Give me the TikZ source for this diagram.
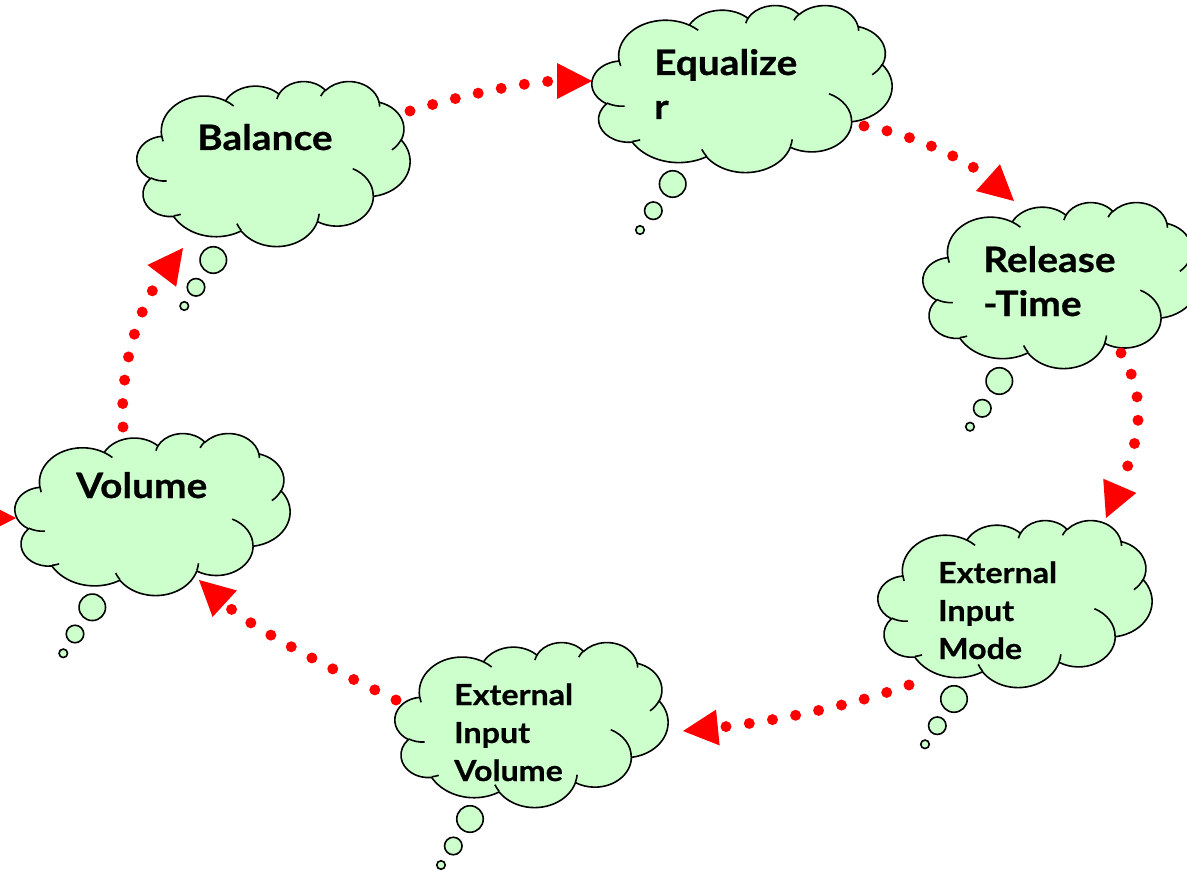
\documentclass[tikz,border=0pt]{standalone}
\usepackage{fontspec}
\setmainfont{Lato}[BoldFeatures={FakeStretch=1.11,FakeBold=0.6}]
\usetikzlibrary{arrows.meta}
\definecolor{cloudgreen}{HTML}{CCFFCC}
\definecolor{arrowred}{HTML}{FF0000}

% convert a DrawingML arc (visual angles) into parametric start / delta
\newcommand\visarc[5]{%
  \pgfmathsetmacro\vaA{atan2((#2)*sin(#4),(#3)*cos(#4))}%
  \pgfmathsetmacro\vaB{atan2((#2)*sin((#4)+(#5)),(#3)*cos((#4)+(#5)))}%
  \pgfmathsetmacro\vaD{\vaB-\vaA}%
  \pgfmathsetmacro\vaD{\vaD<0 ? \vaD+360 : \vaD}%
  \expandafter\xdef\csname #1s\endcsname{\vaA}%
  \expandafter\xdef\csname #1d\endcsname{\vaD}}
\visarc{cA}{67.53}{91.90}{-190.4875}{123.7805}
\visarc{cB}{53.33}{72.67}{-144.1024}{89.9452}
\visarc{cC}{43.65}{59.45}{-145.8079}{99.7230}
\visarc{cD}{48.57}{65.95}{-130.9861}{117.2417}
\visarc{cE}{53.33}{72.73}{-78.7089}{109.0269}
\visarc{cF}{67.75}{92.20}{-46.2673}{130.2690}
\visarc{cG}{57.85}{78.67}{0.6250}{114.0333}
\visarc{cH}{67.52}{92.15}{22.4516}{115.1726}
\visarc{cI}{77.20}{105.43}{66.2426}{75.7110}
\visarc{cJ}{43.60}{59.18}{-274.9421}{146.7356}
\visarc{cK}{43.45}{59.45}{-246.8285}{152.5189}
\visarc{hA}{43.45}{59.45}{86.7420}{26.4295}
\visarc{hB}{43.60}{59.18}{73.6105}{11.4475}
\visarc{hC}{67.52}{92.15}{137.6242}{14.0811}
\visarc{hD}{67.52}{92.15}{6.4533}{15.9984}
\visarc{hE}{57.85}{78.67}{-70.2924}{70.9174}
\visarc{hF}{53.33}{72.73}{30.3180}{27.7515}
\visarc{hG}{48.57}{65.95}{-13.7443}{14.8658}
\visarc{hH}{48.57}{65.95}{-149.1815}{18.1876}
\visarc{hI}{43.65}{59.45}{-163.4943}{17.6951}
\visarc{hJ}{67.53}{91.90}{-66.7070}{12.3194}
\visarc{hK}{67.53}{91.90}{157.6544}{11.8582}

\tikzset{
  cloudbox/.style={inner sep=0pt, outer sep=0pt, draw=none, rectangle},
  cloudline/.style={draw=black, line width=1.6pt, line join=round},
  bubble/.style={circle, draw=black, fill=cloudgreen, line width=1.6pt, inner sep=0pt},
  lbl/.style={anchor=base west, inner sep=0pt, text width=300pt, align=left,
    font=\fontsize{35}{44}\selectfont\bfseries},
  lblsmall/.style={lbl, font=\fontsize{29}{38}\selectfont\bfseries},
  flow/.style={draw=arrowred, line width=11pt, dash pattern=on 0pt off 23.5pt, line cap=round,
    -{Triangle[length=35pt,width=36pt,line width=0pt,fill=arrowred,color=arrowred]}}
}

\newcommand\drawcloud[5]{%
  \node[cloudbox, minimum width=#4pt, minimum height=#5pt, anchor=north west] (#1) at (#2,#3) {};
  \begin{scope}[shift={(#2,#3)}, xscale=#4/432, yscale=#5/432]
    \draw[cloudline, fill=cloudgreen] (39.00,143.70)
      arc[start angle=\cAs, delta angle=\cAd, x radius=67.53, y radius=91.90]
      arc[start angle=\cBs, delta angle=\cBd, x radius=53.33, y radius=72.67]
      arc[start angle=\cCs, delta angle=\cCd, x radius=43.65, y radius=59.45]
      arc[start angle=\cDs, delta angle=\cDd, x radius=48.57, y radius=65.95]
      arc[start angle=\cEs, delta angle=\cEd, x radius=53.33, y radius=72.73]
      arc[start angle=\cFs, delta angle=\cFd, x radius=67.75, y radius=92.20]
      arc[start angle=\cGs, delta angle=\cGd, x radius=57.85, y radius=78.67]
      arc[start angle=\cHs, delta angle=\cHd, x radius=67.52, y radius=92.15]
      arc[start angle=\cIs, delta angle=\cId, x radius=77.20, y radius=105.43]
      arc[start angle=\cJs, delta angle=\cJd, x radius=43.60, y radius=59.18]
      arc[start angle=\cKs, delta angle=\cKd, x radius=43.45, y radius=59.45]
      -- cycle;
    \draw[cloudline]
      (46.93,261.77) arc[start angle=\hAs, delta angle=\hAd, x radius=43.45, y radius=59.45]
      (69.28,348.99) arc[start angle=\hBs, delta angle=\hBd, x radius=43.60, y radius=59.18]
      (164.78,390.90) arc[start angle=\hCs, delta angle=\hCd, x radius=67.52, y radius=92.15]
      (288.27,347.51) arc[start angle=\hDs, delta angle=\hDd, x radius=67.52, y radius=92.15]
      (341.29,229.54) arc[start angle=\hEs, delta angle=\hEd, x radius=57.85, y radius=78.67]
      (417.98,153.54) arc[start angle=\hFs, delta angle=\hFd, x radius=53.33, y radius=72.73]
      (383.24,54.26) arc[start angle=\hGs, delta angle=\hGd, x radius=48.57, y radius=65.95]
      (290.78,39.52) arc[start angle=\hHs, delta angle=\hHd, x radius=48.57, y radius=65.95]
      (221.41,47.20) arc[start angle=\hIs, delta angle=\hId, x radius=43.65, y radius=59.45]
      (140.00,51.92) arc[start angle=\hJs, delta angle=\hJd, x radius=67.53, y radius=91.90]
      (41.27,157.89) arc[start angle=\hKs, delta angle=\hKd, x radius=67.53, y radius=91.90];
  \end{scope}}

\begin{document}
\begin{tikzpicture}[x=1pt, y=-1pt]
\useasboundingbox (0,0) rectangle (1187,872);
\clip (0,0) rectangle (1187,872);

% clouds
\drawcloud{bal}{137}{81}{273}{165}
\drawcloud{eq}{592}{5}{300}{167}
\drawcloud{rel}{923}{202}{275}{166}
\drawcloud{vol}{15}{433}{275}{162}
\drawcloud{eiv}{395}{642}{273}{165}
\drawcloud{eim}{878}{520}{274}{167}

% thought bubbles
\node[bubble, minimum size=26.5pt] (balb1) at (213.3,260) {};
\node[bubble, minimum size=17.5pt] (balb2) at (196,287.3) {};
\node[bubble, minimum size=8.5pt] (balb3) at (184.3,306) {};
\node[bubble, minimum size=26.5pt] (eqb1) at (672.7,184) {};
\node[bubble, minimum size=17.5pt] (eqb2) at (653.3,210.7) {};
\node[bubble, minimum size=8.5pt] (eqb3) at (640,230) {};
\node[bubble, minimum size=26.5pt] (relb1) at (999.3,381) {};
\node[bubble, minimum size=17.5pt] (relb2) at (982.3,408.3) {};
\node[bubble, minimum size=8.5pt] (relb3) at (970,426.7) {};
\node[bubble, minimum size=26.5pt] (volb1) at (92.3,607.3) {};
\node[bubble, minimum size=17.5pt] (volb2) at (75,634) {};
\node[bubble, minimum size=8.5pt] (volb3) at (63.3,653.3) {};
\node[bubble, minimum size=26.5pt] (eivb1) at (470,819) {};
\node[bubble, minimum size=17.5pt] (eivb2) at (453.3,846) {};
\node[bubble, minimum size=8.5pt] (eivb3) at (441,865) {};
\node[bubble, minimum size=26.5pt] (eimb1) at (954,699) {};
\node[bubble, minimum size=17.5pt] (eimb2) at (937.3,725.7) {};
\node[bubble, minimum size=8.5pt] (eimb3) at (925,744.3) {};

% texts
\node[lbl] (balT) at (197,150) {Balance};
\node[lbl] (eqT) at (654,75) {Equalize\\r};
\node[lbl] (relT) at (983,272) {Release\\-Time};
\node[lbl] (volT) at (76,498) {Volume};
\node[lblsmall] (eivT) at (454,705) {External\\Input\\Volume};
\node[lblsmall] (eimT) at (938,583) {External\\Input\\Mode};

% connectors
\coordinate (offL) at (-80,518);
\draw[flow] ([shift={(273,30)}]bal.north west) .. controls +(60,-18) and +(-60,0) .. ([shift={(0,76)}]eq.north west);
\draw[flow] ([shift={(272,121)}]eq.north west) .. controls +(56,9) and +(-39,-35) .. ([shift={(91,-1)}]rel.north west);
\draw[flow] ([shift={(198,151)}]rel.north west) .. controls +(30,50) and +(30,-70) .. ([shift={(228,-2)}]eim.north west);
\draw[flow] ([shift={(31,165)}]eim.north west) .. controls +(-70,25) and +(70,-7) .. ([shift={(288,89)}]eiv.north west);
\draw[flow] ([shift={(1,58)}]eiv.north west) .. controls +(-70,-33) and +(50,46) .. ([shift={(184,147)}]vol.north west);
\draw[flow] ([shift={(108,-6)}]vol.north west) .. controls +(-4,-70) and +(-38,50) .. ([shift={(46,167)}]bal.north west);
\draw[flow] (offL) -- ([shift={(1,85)}]vol.north west);
\end{tikzpicture}
\end{document}
